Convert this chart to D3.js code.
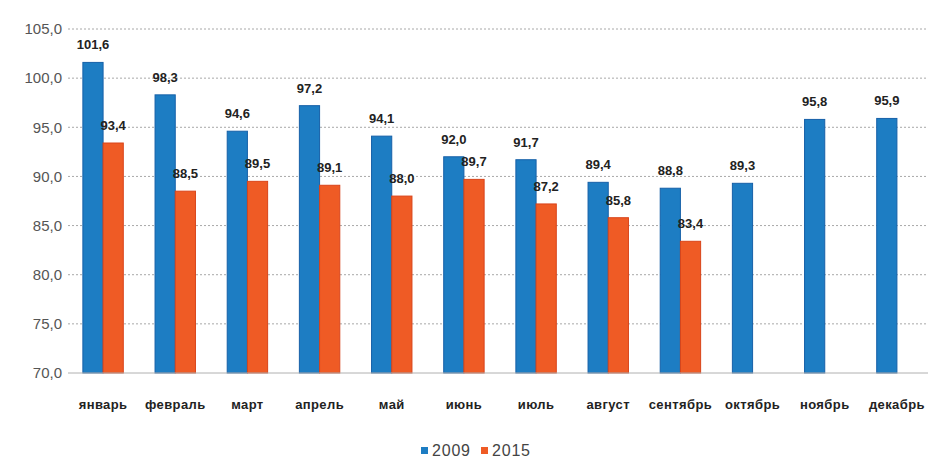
<!DOCTYPE html>
<html>
<head>
<meta charset="utf-8">
<script src="https://cdn.jsdelivr.net/npm/d3@7"></script>
<style>
  body { margin: 0; background: #fff; }
  svg { display: block; font-family: "Liberation Sans", Arial, sans-serif; }
</style>
</head>
<body>
<svg id="chart" width="928" height="459"></svg>
<script>
// months on the x axis
const months = ["январь", "февраль", "март", "апрель", "май", "июнь",
  "июль", "август", "сентябрь", "октябрь", "ноябрь", "декабрь"];
const series = ["2009", "2015"];
const values2009 = [101.6, 98.3, 94.6, 97.2, 94.1, 92.0, 91.7, 89.4, 88.8, 89.3, 95.8, 95.9];
const values2015 = [93.4, 88.5, 89.5, 89.1, 88.0, 89.7, 87.2, 85.8, 83.4];
const yTicks = [70, 75, 80, 85, 90, 95, 100, 105];

const colors = { "2009": "#1d7dc3", "2015": "#ef5b25" };
const strokes = { "2009": "#1660a8", "2015": "#d9441a" };

const svg = d3.select("#chart");
const fmt = v => d3.format(".1f")(v).replace(".", ",");

const x = d3.scaleBand().domain(months).range([67, 933]).paddingInner(0.44).paddingOuter(0.22);
const xs = d3.scaleBand().domain(series).range([0, x.bandwidth()]);
const y = d3.scaleLinear().domain([70, 105]).range([373, 29]);

// gridlines
svg.append("g").selectAll("line")
  .data(yTicks.filter(d => d > 70))
  .join("line")
  .attr("x1", 68).attr("x2", 928)
  .attr("y1", d => y(d)).attr("y2", d => y(d))
  .attr("stroke", "#a8a8a8")
  .attr("stroke-width", 1)
  .attr("stroke-dasharray", "2,2");

// y axis labels
svg.append("g").selectAll("text")
  .data(yTicks)
  .join("text")
  .attr("x", 62).attr("y", d => y(d))
  .attr("dy", "0.35em")
  .attr("text-anchor", "end")
  .attr("font-size", 15)
  .attr("fill", "#555")
  .text(d => fmt(d));

// bars
const rows = [];
months.forEach((m, i) => {
  rows.push({ month: m, key: "2009", value: values2009[i] });
  if (values2015[i] != null) rows.push({ month: m, key: "2015", value: values2015[i] });
});

svg.append("g").selectAll("rect")
  .data(rows)
  .join("rect")
  .attr("x", d => x(d.month) + xs(d.key))
  .attr("y", d => y(d.value))
  .attr("width", xs.bandwidth())
  .attr("height", d => y(70) - y(d.value))
  .attr("fill", d => colors[d.key])
  .attr("stroke", d => strokes[d.key])
  .attr("stroke-width", 1);

// baseline
svg.append("line")
  .attr("x1", 68).attr("x2", 928)
  .attr("y1", y(70)).attr("y2", y(70))
  .attr("stroke", "#b0b0b0");

// value labels
svg.append("g").selectAll("text")
  .data(rows)
  .join("text")
  .attr("x", d => x(d.month) + xs(d.key) + xs.bandwidth() / 2)
  .attr("y", d => y(d.value) - 13)
  .attr("text-anchor", "middle")
  .attr("font-size", 13)
  .attr("font-weight", "bold")
  .attr("fill", "#222")
  .text(d => fmt(d.value));

// month labels
svg.append("g").selectAll("text")
  .data(months)
  .join("text")
  .attr("x", d => x(d) + x.bandwidth() / 2)
  .attr("y", 404)
  .attr("dy", "0.35em")
  .attr("text-anchor", "middle")
  .attr("font-size", 13)
  .attr("font-weight", "bold")
  .attr("letter-spacing", 0.4)
  .attr("fill", "#222")
  .text(d => d);

// legend
const legend = svg.append("g").attr("transform", "translate(421,450)");
const lx = [0, 60];
series.forEach((s, i) => {
  const g = legend.append("g").attr("transform", `translate(${lx[i]},0)`);
  g.append("rect").attr("x", 0).attr("y", -3).attr("width", 7).attr("height", 7).attr("fill", colors[s]);
  g.append("text").attr("x", 11).attr("y", 0).attr("dy", "0.35em")
    .attr("font-size", 16).attr("letter-spacing", 0.8).attr("fill", "#444").text(s);
});
</script>
</body>
</html>
